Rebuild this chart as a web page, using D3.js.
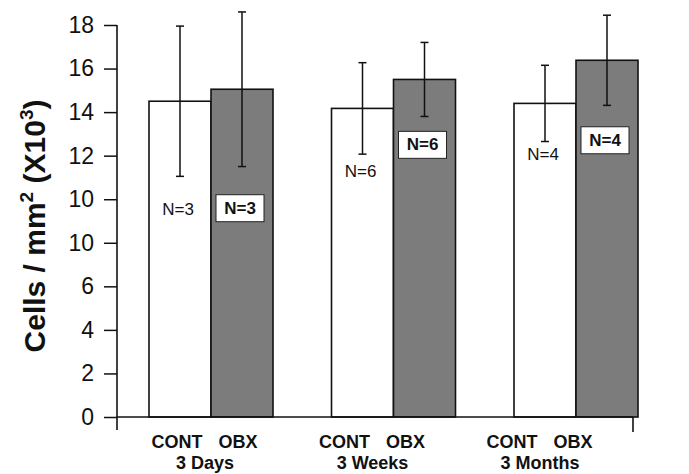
<!DOCTYPE html>
<html>
<head>
<meta charset="utf-8">
<script src="https://cdn.jsdelivr.net/npm/d3@7"></script>
<style>
  body { margin: 0; background: #fff; }
  text { font-family: "Liberation Sans", Arial, Helvetica, sans-serif; }
</style>
</head>
<body>
<div id="chart"></div>
<script>
// data
var groups = ["3 Days", "3 Weeks", "3 Months"];
var conditions = ["CONT", "OBX"];
var contMean = [14.5, 14.17, 14.4];
var contSD = [3.45, 2.1, 1.75];
var obxMean = [15.05, 15.5, 16.38];
var obxSD = [3.55, 1.7, 2.07];
var contN = [3, 6, 4];
var obxN = [3, 6, 4];
var yTicks = [0, 2, 4, 6, 8, 10, 12, 14, 16, 18];
// the original figure labels the 8 tick as "10"
var yTickLabels = ["0", "2", "4", "6", "10", "10", "12", "14", "16", "18"];

// where the N= labels sit (in axis units)
var contLabelAt = [9.54, 11.28, 12.1];
var obxLabelAt = [9.61, 12.52, 12.73];

var width = 689, height = 474;

var svg = d3.select("#chart")
    .append("svg")
    .attr("width", width)
    .attr("height", height);

var y = d3.scaleLinear()
    .domain([0, 18])
    .range([417, 25]);

// group centres
var x = d3.scalePoint()
    .domain(groups)
    .range([211, 576]);

// CONT / OBX within a group
var xIn = d3.scaleBand()
    .domain(conditions)
    .range([-62, 62]);

// category label positions (shifted left in the original)
var xLab = d3.scalePoint()
    .domain(groups)
    .range([177, 512]);

var bars = [];
groups.forEach(function(g, i) {
    bars.push({group: g, cond: "CONT", mean: contMean[i], sd: contSD[i], n: contN[i], lab: contLabelAt[i]});
    bars.push({group: g, cond: "OBX", mean: obxMean[i], sd: obxSD[i], n: obxN[i], lab: obxLabelAt[i]});
});

// bars
svg.selectAll("rect.bar")
    .data(bars)
    .enter()
    .append("rect")
    .attr("class", "bar")
    .attr("x", function(d){ return x(d.group) + xIn(d.cond); })
    .attr("y", function(d){ return y(d.mean); })
    .attr("width", xIn.bandwidth())
    .attr("height", function(d){ return y(0) - y(d.mean); })
    .style("fill", function(d){ return d.cond == "OBX" ? "#7c7c7c" : "#fff"; })
    .style("stroke", "#111")
    .style("stroke-width", 1.6);

// error bars
var err = svg.selectAll("g.err")
    .data(bars)
    .enter()
    .append("g")
    .attr("class", "err")
    .attr("transform", function(d){ return "translate(" + (x(d.group) + xIn(d.cond) + xIn.bandwidth() / 2) + ",0)"; })
    .style("stroke", "#111")
    .style("stroke-width", 1.5);

err.append("line")
    .attr("y1", function(d){ return y(d.mean + d.sd); })
    .attr("y2", function(d){ return y(d.mean - d.sd); });
err.append("line")
    .attr("x1", -4).attr("x2", 4)
    .attr("y1", function(d){ return y(d.mean + d.sd); })
    .attr("y2", function(d){ return y(d.mean + d.sd); });
err.append("line")
    .attr("x1", -4).attr("x2", 4)
    .attr("y1", function(d){ return y(d.mean - d.sd); })
    .attr("y2", function(d){ return y(d.mean - d.sd); });

// N labels
var nLab = svg.selectAll("g.nlab")
    .data(bars)
    .enter()
    .append("g")
    .attr("class", "nlab")
    .attr("transform", function(d){ return "translate(" + (x(d.group) + xIn(d.cond) + xIn.bandwidth() / 2 - 2) + "," + y(d.lab) + ")"; });

nLab.filter(function(d){ return d.cond == "OBX"; })
    .append("rect")
    .attr("x", -24).attr("y", -13)
    .attr("width", 48).attr("height", 27)
    .style("fill", "#fff")
    .style("stroke", "#222")
    .style("stroke-width", 1);

nLab.append("text")
    .attr("text-anchor", "middle")
    .attr("dy", "0.36em")
    .style("font-size", "17px")
    .style("font-weight", function(d){ return d.cond == "OBX" ? "bold" : "normal"; })
    .style("fill", "#111")
    .text(function(d){ return "N=" + d.n; });

// y axis
var yAxis = svg.append("g")
    .attr("transform", "translate(117,0)")
    .call(d3.axisLeft(y)
        .tickValues(yTicks)
        .tickSize(13)
        .tickPadding(10)
        .tickFormat(function(d, i){ return yTickLabels[i]; }));
yAxis.select(".domain").remove();
yAxis.selectAll(".tick line").style("stroke", "#111").style("stroke-width", 1.5);
yAxis.selectAll(".tick text")
    .style("font-size", "23px")
    .style("fill", "#111")
    .style("font-family", "'Liberation Sans', Arial, sans-serif");

svg.append("line")
    .attr("x1", 117).attr("x2", 117)
    .attr("y1", y(18)).attr("y2", y(0) + 13)
    .style("stroke", "#111").style("stroke-width", 1.6);

// x axis baseline with end tick
svg.append("line")
    .attr("x1", 117).attr("x2", 633)
    .attr("y1", y(0)).attr("y2", y(0))
    .style("stroke", "#111").style("stroke-width", 1.6);
svg.append("line")
    .attr("x1", 633).attr("x2", 633)
    .attr("y1", y(0)).attr("y2", y(0) + 15)
    .style("stroke", "#111").style("stroke-width", 1.6);

// category labels
var cat = svg.selectAll("g.cat")
    .data(groups)
    .enter()
    .append("g")
    .attr("class", "cat")
    .attr("transform", function(d){ return "translate(" + xLab(d) + ",0)"; })
    .style("font-weight", "bold")
    .style("font-size", "18px")
    .style("fill", "#111")
    .attr("text-anchor", "middle");

cat.append("text").attr("x", 0).attr("y", 448).text(conditions[0]);
cat.append("text").attr("x", 61).attr("y", 448).text(conditions[1]);
cat.append("text").attr("x", 28).attr("y", 469).text(function(d){ return d; });

// y axis title
var title = svg.append("text")
    .attr("transform", "translate(45,226) rotate(-90)")
    .attr("text-anchor", "middle")
    .style("font-size", "30px")
    .style("font-weight", "bold")
    .style("fill", "#111");
title.append("tspan").text("Cells / mm");
title.append("tspan").attr("dy", -12).style("font-size", "19px").text("2");
title.append("tspan").attr("dy", 12).text(" (X10");
title.append("tspan").attr("dy", -12).style("font-size", "19px").text("3");
title.append("tspan").attr("dy", 12).text(")");
</script>
</body>
</html>
